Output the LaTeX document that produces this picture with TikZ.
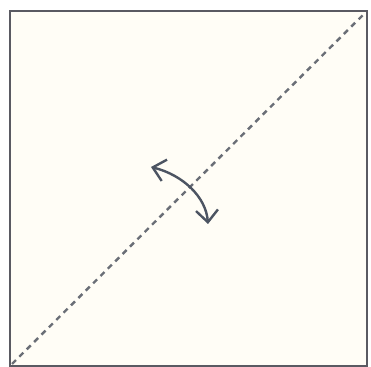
\documentclass[tikz,border=0pt]{standalone}
\usepackage{xcolor}
\definecolor{paper}{HTML}{FFFDF6}
\definecolor{edge}{HTML}{5A5A62}
\definecolor{foldline}{HTML}{6A6E76}
\definecolor{turn}{HTML}{4C5462}
\usetikzlibrary{arrows.meta}

\begin{document}
\begin{tikzpicture}[
  x=0.5pt, y=-0.5pt,
  sheet/.style={draw=edge, line width=1pt, fill=paper},
  valley/.style={draw=foldline, line width=1.2pt, dash pattern=on 2.8pt off 2.4pt},
  flip/.style={draw=turn, line width=1.2pt,
    {Straight Barb[length=6pt, width=11pt]}-{Straight Barb[length=6pt, width=11pt]}}
]
  \useasboundingbox (0,0) rectangle (371,367);
  % the square sheet
  \draw[sheet] (10,11) rectangle (367,366);
  % diagonal fold
  \coordinate (bl) at (12,364);
  \coordinate (tr) at (365,13);
  \draw[valley] (bl) -- (tr);
  % fold over
  \coordinate (from) at (151,167);
  \coordinate (to) at (208,224);
  \draw[flip] (from) .. controls (183,175) and (206,197) .. (to);
\end{tikzpicture}
\end{document}
